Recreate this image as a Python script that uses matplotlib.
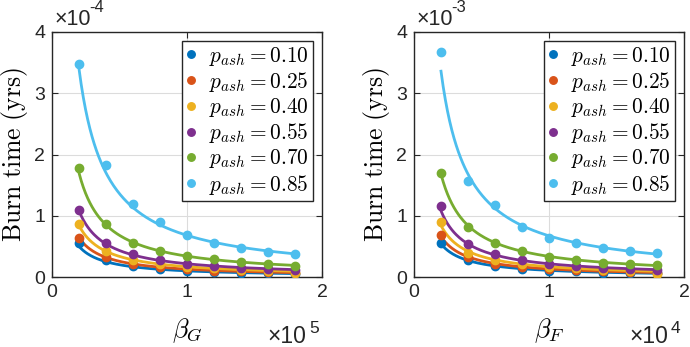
import numpy as np
import matplotlib
matplotlib.use("Agg")
import matplotlib.pyplot as plt

plt.rcParams['mathtext.fontset'] = 'cm'
plt.rcParams['font.family'] = ['Liberation Sans', 'DejaVu Sans']

# beta values (scaled: x 1e5 left, x 1e4 right)
beta = [0.2, 0.4, 0.6, 0.8, 1.0, 1.2, 1.4, 1.6, 1.8]
p_ash = ['0.10', '0.25', '0.40', '0.55', '0.70', '0.85']
colors = ['#0072BD', '#D95319', '#EDB120', '#7E2F8E', '#77AC30', '#4DBEEE']

# burn time, left panel (x 1e-4 yrs)
burn_G = [
    [0.56, 0.28, 0.18, 0.13, 0.10, 0.08, 0.07, 0.06, 0.05],
    [0.64, 0.32, 0.22, 0.16, 0.13, 0.10, 0.09, 0.08, 0.07],
    [0.86, 0.42, 0.28, 0.21, 0.17, 0.14, 0.12, 0.10, 0.06],
    [1.10, 0.55, 0.38, 0.27, 0.22, 0.18, 0.15, 0.13, 0.11],
    [1.78, 0.87, 0.56, 0.43, 0.34, 0.29, 0.24, 0.21, 0.18],
    [3.47, 1.83, 1.19, 0.89, 0.68, 0.55, 0.47, 0.41, 0.37],
]
# burn time, right panel (x 1e-3 yrs)
burn_F = [
    [0.55, 0.27, 0.18, 0.13, 0.10, 0.09, 0.07, 0.06, 0.06],
    [0.69, 0.33, 0.22, 0.17, 0.13, 0.11, 0.09, 0.08, 0.07],
    [0.89, 0.40, 0.28, 0.21, 0.17, 0.14, 0.12, 0.10, 0.05],
    [1.16, 0.54, 0.37, 0.27, 0.21, 0.18, 0.15, 0.13, 0.12],
    [1.69, 0.82, 0.56, 0.43, 0.32, 0.28, 0.23, 0.21, 0.19],
    [3.67, 1.56, 1.17, 0.82, 0.64, 0.56, 0.47, 0.43, 0.39],
]

fig = plt.figure(figsize=(6.9, 3.47), dpi=100)
W, H = 690, 347
panels = [
    (52, burn_G, r'$\beta_G$', '-4', '5'),
    (414, burn_F, r'$\beta_F$', '-3', '4'),
]

xs = np.linspace(beta[0], beta[-1], 200)
bx = np.array(beta)
for left, data, xlab, yexp, xexp in panels:
    ax = fig.add_axes([left / W, 1 - 277 / H, 270 / W, 245 / H])
    for vals, p, c in zip(data, p_ash, colors):
        # a / beta fit
        a = np.median(np.array(vals) * bx)
        ax.plot(xs, a / xs, color=c, lw=2, zorder=2)
        ax.plot(beta, vals, 'o', color=c, ms=6, ls='none', zorder=3,
                label=r'$p_{ash} = %s$' % p)
    ax.set_xlim(0, 2)
    ax.set_ylim(0, 4)
    ax.set_xticks([0, 1, 2])
    ax.set_yticks([0, 1, 2, 3, 4])
    ax.grid(True, color='#dcdcdc', lw=0.8)
    ax.set_axisbelow(True)
    ax.tick_params(direction='in', top=True, right=True, labelsize=14,
                   colors='#262626', length=4, width=0.8, pad=5)
    for s in ax.spines.values():
        s.set_color('#262626')
        s.set_linewidth(1.0)
    ax.set_ylabel(r'$\mathrm{Burn\ time\ (yrs)}$', fontsize=18.5, labelpad=3)
    ax.set_xlabel(xlab, fontsize=19, labelpad=11)
    leg = ax.legend(loc='upper right', fontsize=15.4, frameon=True, fancybox=False,
                    edgecolor='#262626', framealpha=1, handlelength=0.5,
                    handletextpad=0.6, borderpad=0.2, labelspacing=0.1,
                    borderaxespad=0.4, markerscale=0.9)
    leg.get_frame().set_linewidth(1.0)
    # MATLAB-style exponent labels
    ax.annotate('\u00d710', xy=(0, 1), xycoords='axes fraction', xytext=(2, 5),
                textcoords='offset points', fontsize=15.5, color='#262626',
                ha='left', va='baseline')
    ax.annotate(yexp, xy=(0, 1), xycoords='axes fraction', xytext=(26.5, 14.4),
                textcoords='offset points', fontsize=12, color='#262626',
                ha='left', va='baseline')
    ax.annotate('\u00d710', xy=(1, 0), xycoords='axes fraction', xytext=(-39.6, -47.5),
                textcoords='offset points', fontsize=16.5, color='#262626',
                ha='left', va='baseline')
    ax.annotate(xexp, xy=(1, 0), xycoords='axes fraction', xytext=(-9.5, -40.5),
                textcoords='offset points', fontsize=12.5, color='#262626',
                ha='left', va='baseline')

fig.savefig('out.png', dpi=100)
